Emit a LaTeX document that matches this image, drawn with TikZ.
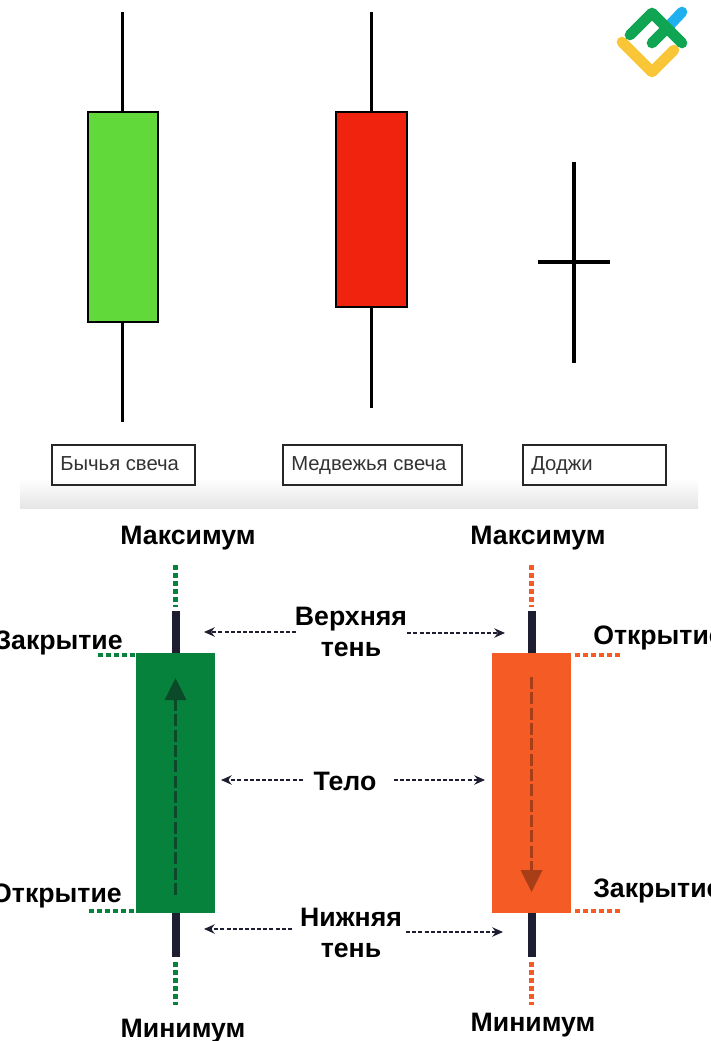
\documentclass[tikz,border=0pt]{standalone}
\usepackage{fontspec}
\setmainfont{Liberation Sans}
\usepackage{xcolor}
\definecolor{bullgreen}{HTML}{62D93A}
\definecolor{bearred}{HTML}{F0240E}
\definecolor{bodygreen}{HTML}{06823C}
\definecolor{bodyorange}{HTML}{F45B25}
\definecolor{darkgreen}{HTML}{0A4A28}
\definecolor{darkorange}{HTML}{A83E18}
\definecolor{wickdark}{HTML}{1E1E32}
\definecolor{logogreen}{HTML}{0FA552}
\definecolor{logoblue}{HTML}{1FB0F0}
\definecolor{logoyellow}{HTML}{F8C636}
\usetikzlibrary{arrows.meta, shadings}
\tikzset{
    candle/.style={draw=black, line width=1.5pt, inner sep=0pt},
    thinline/.style={line width=2.5pt, black},
    namebox/.style={draw=black!85, line width=1.3pt, inner sep=0pt, anchor=north west},
    nametext/.style={font={\fontsize{15.2pt}{18pt}\selectfont}, text=black!80, inner sep=0pt, anchor=base west},
    label/.style={font={\fontsize{20pt}{23.2pt}\selectfont\bfseries}, inner sep=0pt, align=center},
    wick/.style={line width=6pt, wickdark},
    dots/.style={line width=3.2pt, dash pattern=on 3.6pt off 2.4pt},
    pointer/.style={line width=1.2pt, wickdark, dash pattern=on 3pt off 1.6pt, -{Stealth[length=8pt,width=7pt]}},
    flow/.style={line width=2.6pt, dash pattern=on 9pt off 2.5pt},
    logoline/.style={line width=8pt, line cap=round, line join=round},
}
\begin{document}
\begin{tikzpicture}
    [x=0.75pt, y=-0.75pt]
    \useasboundingbox (0,0) rectangle (710,1041);
    \clip (0,0) rectangle (710,1041);
    \fill[white] (0,0) rectangle (710,1041);
    \shade[top color=white, bottom color=black!10]
        (20,478) rectangle (698,508);
    % upper candles
    \node[candle, fill=bullgreen, minimum width=70*0.75pt, minimum height=210*0.75pt]
        (bull) at (122.5,217) {};
    \node[candle, fill=bearred, minimum width=71*0.75pt, minimum height=195*0.75pt]
        (bear) at (371.5,209.5) {};
    \coordinate (bulltop) at (122.5,12);
    \coordinate (bullend) at (122.5,422);
    \coordinate (beartop) at (371.5,12);
    \coordinate (bearend) at (371.5,408);
    \draw[thinline] (bulltop)--(bull.north);
    \draw[thinline] (bull.south)--(bullend);
    \draw[thinline] (beartop)--(bear.north);
    \draw[thinline] (bear.south)--(bearend);
    \coordinate (dojitop) at (574,162);
    \coordinate (dojiend) at (574,363);
    \coordinate (dojileft) at (538,262);
    \coordinate (dojiright) at (610,262);
    \draw[thinline] (dojitop)--(dojiend);
    \draw[thinline] (dojileft)--(dojiright);
    % name boxes
    \node[namebox, minimum width=143*0.75pt, minimum height=40*0.75pt] (bullbox) at (51,444) {};
    \node[namebox, minimum width=179*0.75pt, minimum height=40*0.75pt] (bearbox) at (282,444) {};
    \node[namebox, minimum width=143*0.75pt, minimum height=40*0.75pt] (dojibox) at (522,444) {};
    \node[nametext] (bulltext) at (60,470) {Бычья свеча};
    \node[nametext] (beartext) at (291,470) {Медвежья свеча};
    \node[nametext] (dojitext) at (531,470) {Доджи};
    % logo
    \coordinate (la) at (622,42);
    \coordinate (lb) at (652,72);
    \coordinate (lc) at (674,50);
    \coordinate (ld) at (630,35);
    \coordinate (le) at (652,13);
    \coordinate (lf) at (682,43);
    \coordinate (lg) at (652,43);
    \coordinate (lh) at (667,28);
    \coordinate (li) at (682,12);
    \draw[logoline, logoblue] (lh)--(li);
    \draw[logoline, logoyellow] (la)--(lb)--(lc);
    \draw[logoline, logogreen] (ld)--(le)--(lf);
    \draw[logoline, logogreen] (lg)--(lh);
    % lower candles
    \node[fill=bodygreen, inner sep=0pt, minimum width=79*0.75pt, minimum height=260*0.75pt]
        (up) at (175.5,783) {};
    \node[fill=bodyorange, inner sep=0pt, minimum width=79*0.75pt, minimum height=260*0.75pt]
        (down) at (531.5,783) {};
    \coordinate (uptop) at (175.5,611);
    \coordinate (upend) at (175.5,957);
    \coordinate (downtop) at (531.5,611);
    \coordinate (downend) at (531.5,957);
    \draw[wick] (uptop)--(up.north);
    \draw[wick] (up.south)--(upend);
    \draw[wick] (downtop)--(down.north);
    \draw[wick] (down.south)--(downend);
    \draw[flow, darkgreen] (175.5,895)--(175.5,695);
    \fill[darkgreen] (164.5,700)--(175.5,678)--(186.5,700)--cycle;
    \draw[flow, darkorange] (531.5,677)--(531.5,875);
    \fill[darkorange] (520.5,870)--(531.5,892)--(542.5,870)--cycle;
    % text
    \node[label] (upmax) at (188,538) {Максимум};
    \node[label] (downmax) at (538,538) {Максимум};
    \node[label] (upmin) at (183,1031) {Минимум};
    \node[label] (downmin) at (533,1025) {Минимум};
    \node[label, anchor=east] (upclose) at (123,643) {Закрытие};
    \node[label, anchor=east] (upopen) at (122,896) {Открытие};
    \node[label, anchor=west] (downopen) at (593,638) {Открытие};
    \node[label, anchor=west] (downclose) at (593,891) {Закрытие};
    \node[label] (toplabel) at (351,632) {Верхняя\\тень};
    \node[label] (midlabel) at (345,781) {Тело};
    \node[label] (lowlabel) at (351,933) {Нижняя\\тень};
    % dotted levels
    \draw[dots, bodygreen] (175.5,565)--(175.5,607);
    \draw[dots, bodygreen] (175.5,962)--(175.5,1005);
    \draw[dots, bodyorange] (531.5,565)--(531.5,607);
    \draw[dots, bodyorange] (531.5,962)--(531.5,1005);
    \coordinate (a) at (98,655);
    \coordinate (b) at (89,911);
    \coordinate (c) at (620,655);
    \coordinate (d) at (620,911);
    \draw[dots, bodygreen] (a)--(up.north west |- a);
    \draw[dots, bodygreen] (b)--(up.south west |- b);
    \draw[dots, bodyorange] (575,655)--(c);
    \draw[dots, bodyorange] (575,911)--(d);
    % pointers
    \coordinate (tl) at (204,632);
    \coordinate (tr) at (505,633);
    \coordinate (ml) at (221,780);
    \coordinate (mr) at (485,780);
    \coordinate (ll) at (204,929);
    \coordinate (lr) at (503,932);
    \draw[pointer] ([xshift=1pt]toplabel.west |- tl)--(tl);
    \draw[pointer] (toplabel.east |- tr)--(tr);
    \draw[pointer] ([xshift=-8pt]midlabel.west |- ml)--(ml);
    \draw[pointer] ([xshift=13pt]midlabel.east |- mr)--(mr);
    \draw[pointer] ([xshift=-6pt]lowlabel.west |- ll)--(ll);
    \draw[pointer] ([xshift=3pt]lowlabel.east |- lr)--(lr);
\end{tikzpicture}
\end{document}
